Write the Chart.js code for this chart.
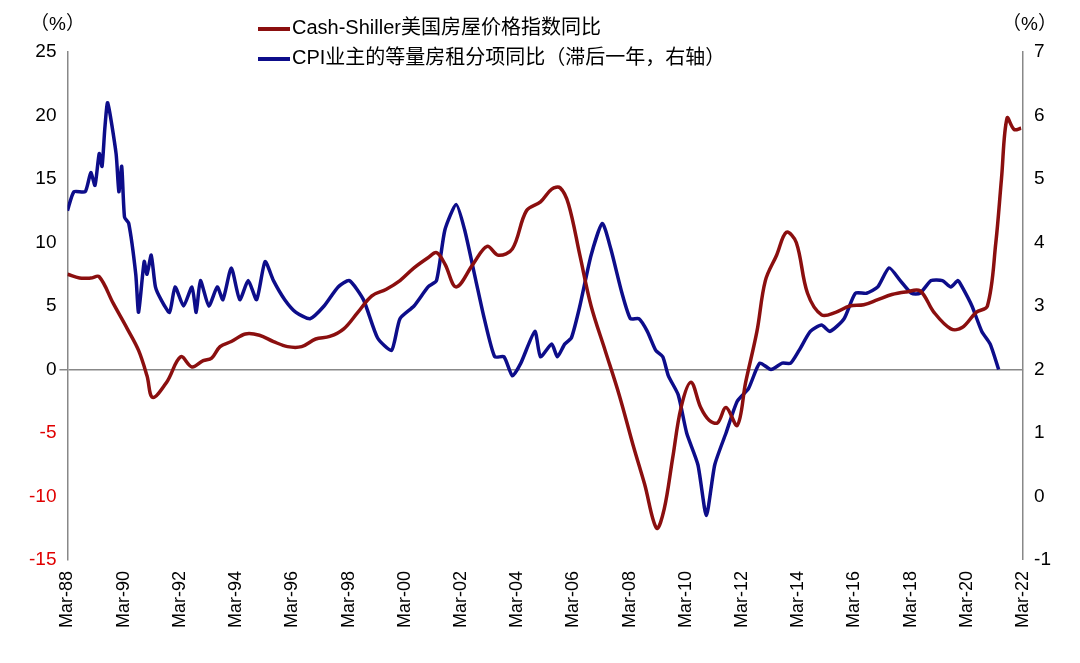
<!DOCTYPE html>
<html>
<head>
<meta charset="utf-8">
<script src="https://cdn.jsdelivr.net/npm/chart.js@4/dist/chart.umd.min.js"></script>
<style>
  body { margin: 0; background: #fff; font-family: "Liberation Sans", Arial, "Noto Sans CJK SC", sans-serif; }
  #wrap { position: relative; width: 1080px; height: 663px; }
  .unit { position: absolute; top: 8px; font-size: 19px; color: #000; }
  #legend { position: absolute; left: 258px; top: 12px; font-size: 20px; line-height: 30px; }
  #legend span.sw { display: inline-block; width: 32px; height: 4px; vertical-align: middle; margin-right: 2px; }
</style>
</head>
<body>
<div id="wrap">
  <canvas id="myChart" width="1080" height="663"></canvas>
  <div class="unit" style="left:30px">（%）</div>
  <div class="unit" style="left:1002px">（%）</div>
  <div id="legend">
    <div><span class="sw" style="background:#8b0f0f"></span>Cash-Shiller美国房屋价格指数同比</div>
    <div><span class="sw" style="background:#0d0d8a"></span>CPI业主的等量房租分项同比（滞后一年，右轴）</div>
  </div>
</div>
<script>
const xTicks = [1988, 1990, 1992, 1994, 1996, 1998, 2000, 2002, 2004, 2006, 2008, 2010, 2012, 2014, 2016, 2018, 2020, 2022]

const redYears = [1988.17, 1988.6, 1989.0, 1989.3, 1989.8, 1990.3, 1990.7, 1991.0, 1991.2, 1991.7, 1992.2, 1992.6, 1993.0, 1993.3, 1993.6, 1994.0, 1994.5, 1995.0, 1995.5, 1996.0, 1996.5, 1997.0, 1997.5, 1998.0, 1998.5, 1999.0, 1999.5, 2000.0, 2000.5, 2001.0, 2001.3, 2001.6, 2002.0, 2002.6, 2003.1, 2003.5, 2004.0, 2004.5, 2005.0, 2005.4, 2005.7, 2006.0, 2006.4, 2006.8, 2007.3, 2007.8, 2008.3, 2008.7, 2009.13, 2009.4, 2009.7, 2010.0, 2010.35, 2010.7, 2011.0, 2011.3, 2011.6, 2012.0, 2012.3, 2012.7, 2013.0, 2013.4, 2013.75, 2014.1, 2014.5, 2015.0, 2015.5, 2016.0, 2016.5, 2017.0, 2017.5, 2018.0, 2018.5, 2019.0, 2019.6, 2020.0, 2020.5, 2020.9, 2021.2, 2021.4, 2021.6, 2021.85, 2022.1]
const redVals = [7.5, 7.2, 7.2, 7.3, 5.2, 3.2, 1.5, -0.5, -2.2, -1.0, 1.0, 0.2, 0.7, 0.9, 1.8, 2.2, 2.8, 2.7, 2.2, 1.8, 1.8, 2.4, 2.6, 3.2, 4.5, 5.8, 6.3, 7.0, 8.0, 8.8, 9.2, 8.3, 6.5, 8.3, 9.7, 9.0, 9.5, 12.5, 13.2, 14.2, 14.3, 13.0, 9.0, 5.0, 1.5, -2.0, -6.0, -9.0, -12.5, -11.0, -7.0, -3.0, -1.0, -3.0, -4.0, -4.2, -3.0, -4.4, -1.0, 3.0, 7.0, 9.0, 10.8, 10.0, 6.0, 4.3, 4.5, 5.0, 5.1, 5.5, 5.9, 6.1, 6.2, 4.5, 3.2, 3.3, 4.5, 5.0, 10.0, 15.0, 19.8, 18.9, 19.0]

const blueYears = [1988.17, 1988.4, 1988.8, 1989.0, 1989.15, 1989.3, 1989.4, 1989.5, 1989.6, 1989.9, 1990.0, 1990.1, 1990.2, 1990.35, 1990.6, 1990.7, 1990.9, 1991.0, 1991.15, 1991.3, 1991.5, 1991.8, 1992.0, 1992.3, 1992.6, 1992.75, 1992.9, 1993.2, 1993.5, 1993.7, 1994.0, 1994.3, 1994.6, 1994.9, 1995.2, 1995.5, 1995.9, 1996.3, 1996.8, 1997.3, 1997.8, 1998.2, 1998.7, 1999.2, 1999.7, 2000.0, 2000.5, 2001.0, 2001.3, 2001.6, 2002.0, 2002.3, 2002.7, 2003.0, 2003.37, 2003.7, 2004.0, 2004.3, 2004.8, 2005.0, 2005.4, 2005.6, 2005.86, 2006.1, 2006.4, 2006.8, 2007.2, 2007.5, 2007.9, 2008.2, 2008.5, 2008.8, 2009.1, 2009.35, 2009.55, 2009.9, 2010.2, 2010.6, 2010.9, 2011.2, 2011.6, 2012.0, 2012.4, 2012.8, 2013.2, 2013.6, 2013.9, 2014.2, 2014.6, 2015.0, 2015.3, 2015.8, 2016.2, 2016.6, 2017.0, 2017.4, 2017.8, 2018.2, 2018.5, 2018.9, 2019.3, 2019.6, 2019.85, 2020.0, 2020.35, 2020.7, 2021.0, 2021.3]
const blueVals = [4.5, 4.8, 4.8, 5.1, 4.9, 5.4, 5.2, 5.8, 6.2, 5.4, 4.8, 5.2, 4.4, 4.3, 3.5, 2.9, 3.7, 3.5, 3.8, 3.3, 3.1, 2.9, 3.3, 3.0, 3.3, 2.9, 3.4, 3.0, 3.3, 3.1, 3.6, 3.1, 3.4, 3.1, 3.7, 3.4, 3.1, 2.9, 2.8, 3.0, 3.3, 3.4, 3.1, 2.5, 2.3, 2.8, 3.0, 3.3, 3.4, 4.2, 4.6, 4.2, 3.4, 2.8, 2.2, 2.2, 1.9, 2.1, 2.6, 2.2, 2.4, 2.2, 2.4, 2.5, 3.0, 3.8, 4.3, 3.9, 3.2, 2.8, 2.8, 2.6, 2.3, 2.2, 1.9, 1.6, 1.0, 0.5, -0.3, 0.5, 1.0, 1.5, 1.7, 2.1, 2.0, 2.1, 2.1, 2.3, 2.6, 2.7, 2.6, 2.8, 3.2, 3.2, 3.3, 3.6, 3.4, 3.2, 3.2, 3.4, 3.4, 3.3, 3.4, 3.3, 3.0, 2.6, 2.4, 2.0, 2.0, 2.5, 3.4, 4.5]

function toPoints(xs, ys) {
    return xs.map((x, i) => ({ x: x, y: ys[i] }))
}

const chartEl = document.getElementById('myChart')
new Chart(chartEl, {
    type: 'line',
    data: {
        datasets: [{
            data: toPoints(redYears, redVals),
            borderColor: '#8b0f0f',
            borderWidth: 3.5,
            pointRadius: 0,
            tension: 0.35,
            yAxisID: 'y'
        }, {
            data: toPoints(blueYears, blueVals),
            borderColor: '#0d0d8a',
            borderWidth: 3.5,
            pointRadius: 0,
            tension: 0.2,
            yAxisID: 'y2'
        }]
    },
    options: {
        responsive: false,
        animation: false,
        layout: { padding: { top: 52, left: 26, right: 26, bottom: 32 } },
        plugins: { legend: { display: false }, tooltip: { enabled: false } },
        scales: {
            x: {
                type: 'linear',
                min: 1988.17,
                max: 2022.17,
                afterBuildTicks: axis => { axis.ticks = xTicks.map(y => ({ value: y + 0.17 })) },
                ticks: {
                    minRotation: 90,
                    maxRotation: 90,
                    color: '#000',
                    font: { size: 18, family: 'Liberation Sans' },
                    callback: v => 'Mar-' + String(Math.round(v - 0.17) % 100).padStart(2, '0')
                },
                grid: { display: false },
                border: { display: false }
            },
            y: {
                min: -15,
                max: 25,
                ticks: {
                    stepSize: 5,
                    color: ctx => ctx.tick.value < 0 ? '#e00000' : '#000',
                    font: { size: 19, family: 'Liberation Sans' }
                },
                grid: {
                    drawOnChartArea: true,
                    drawTicks: true,
                    color: ctx => ctx.tick && ctx.tick.value === 0 ? '#888' : 'rgba(0,0,0,0)',
                    lineWidth: 1.5
                },
                border: { display: true, color: '#888', width: 1.5 }
            },
            y2: {
                position: 'right',
                min: -1,
                max: 7,
                ticks: {
                    stepSize: 1,
                    color: '#000',
                    font: { size: 19, family: 'Liberation Sans' }
                },
                grid: { display: false },
                border: { display: true, color: '#888', width: 1.5 }
            }
        }
    }
})
</script>
</body>
</html>
